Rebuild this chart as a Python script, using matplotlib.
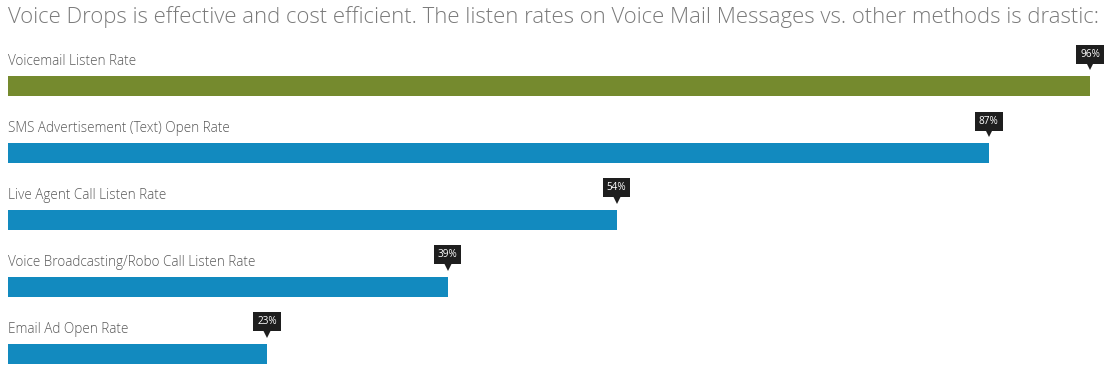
import matplotlib.pyplot as plt
import matplotlib.transforms as mtransforms

title = 'Voice Drops is effective and cost efficient. The listen rates on Voice Mail Messages vs. other methods is drastic:'
labels = ['Voicemail Listen Rate',
          'SMS Advertisement (Text) Open Rate',
          'Live Agent Call Listen Rate',
          'Voice Broadcasting/Robo Call Listen Rate',
          'Email Ad Open Rate']
rates = [96, 87, 54, 39, 23]
colors = ['#758a2e', '#128abf', '#128abf', '#128abf', '#128abf']

plt.rcParams['font.family'] = ['Open Sans', 'DejaVu Sans']

# dpi 72 so that 1 pt == 1 px
fig = plt.figure(figsize=(1116 / 72, 374 / 72), dpi=72)
ax = fig.add_axes([8 / 1116, 0, 1108 / 1116, 1])
ax.set_xlim(0, 98.3)
ax.set_ylim(4.299, -1.284)
ax.axis('off')

ypos = list(range(len(rates)))
ax.barh(ypos, rates, height=20 / 67, color=colors)

for i, (lab, val) in enumerate(zip(labels, rates)):
    ax.text(0, i - 0.37, lab, fontsize=13.5, color='#595959', fontweight='light',
            va='center', ha='left')
    # little triangle pointer under the tooltip
    tr = mtransforms.offset_copy(ax.transData, fig=fig, x=0, y=21, units='points')
    ax.plot([val], [i], marker='v', markersize=9.5, color='#1e1e1e', transform=tr,
            markeredgewidth=0)
    # tooltip box
    ax.annotate(f'{val}%', xy=(val, i), xytext=(0, 32), textcoords='offset points',
                ha='center', va='center', fontsize=10, color='white',
                bbox=dict(boxstyle='square,pad=0.4', fc='#1e1e1e', ec='none'))

fig.text(8 / 1116, 1 - 17 / 374, title, fontsize=22.1, color='#7a7a7a',
         fontweight='light', va='center', ha='left')

fig.savefig('out.png', dpi=72)
